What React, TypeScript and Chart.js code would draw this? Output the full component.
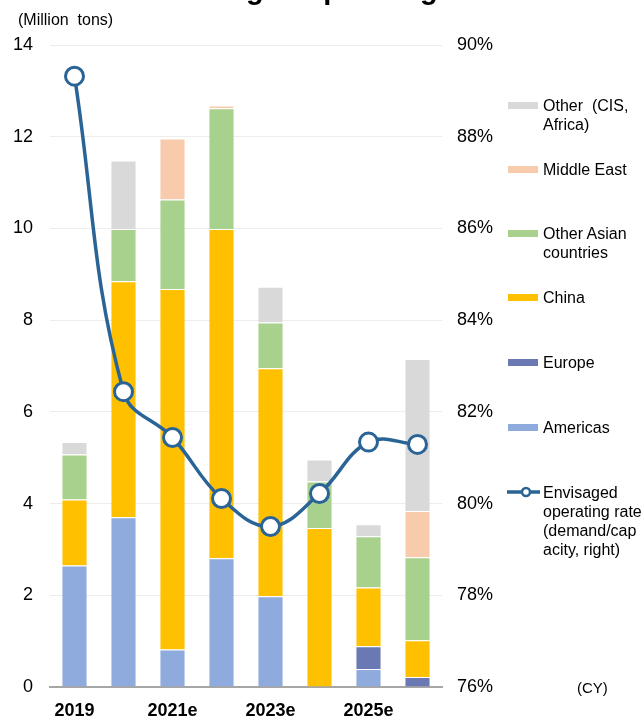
import React, { useEffect, useRef } from "react";
import { Chart, registerables } from "chart.js";

Chart.register(...registerables);

const categories = ["2019", "2020", "2021e", "2022e", "2023e", "2024e", "2025e", "2026e"];
const americas = [2.65, 3.7, 0.82, 2.81, 1.98, null, 0.39, null];
const europe = [null, null, null, null, null, null, 0.5, 0.22];
const china = [1.44, 5.15, 7.86, 7.18, 4.97, 3.47, 1.28, 0.8];
const otherAsia = [0.98, 1.14, 1.95, 2.63, 1.0, 1.01, 1.12, 1.81];
const middleEast = [null, null, 1.33, 0.06, null, null, null, 1.01];
const other = [0.27, 1.49, null, null, 0.78, 0.48, 0.26, 3.31];
const operatingRate = [89.32, 82.44, 81.44, 80.11, 79.5, 80.22, 81.34, 81.29];

const leftTicks = [0, 2, 4, 6, 8, 10, 12, 14];
const rightTicks = [76, 78, 80, 82, 84, 86, 88, 90];

const FONT = "'Liberation Sans', Arial, sans-serif";

const COLORS = {
  americas: "#8FAADC",
  europe: "#6A79B4",
  china: "#FFC000",
  otherAsia: "#A9D18E",
  middleEast: "#F8CBAD",
  other: "#D9D9D9",
  line: "#2A6497",
};

const legendItems = [
  { lines: ["Other  (CIS,", "Africa)"], color: COLORS.other, y: 105 },
  { lines: ["Middle East"], color: COLORS.middleEast, y: 169 },
  { lines: ["Other Asian", "countries"], color: COLORS.otherAsia, y: 233 },
  { lines: ["China"], color: COLORS.china, y: 297 },
  { lines: ["Europe"], color: COLORS.europe, y: 362 },
  { lines: ["Americas"], color: COLORS.americas, y: 427 },
];
const lineLegend = { lines: ["Envisaged", "operating rate", "(demand/cap", "acity, right)"], y: 492 };

export default function App() {
  const canvasRef = useRef<HTMLCanvasElement | null>(null);

  useEffect(() => {
    if (!canvasRef.current) return;
    const barDs = (label: string, data: (number | null)[], color: string) => ({
      type: "bar" as const,
      label,
      data,
      backgroundColor: color,
      borderColor: "#ffffff",
      borderWidth: { top: 1, bottom: 0, left: 0, right: 0 },
      borderSkipped: "bottom",
      yAxisID: "y",
      order: 1,
      barPercentage: 0.5,
      categoryPercentage: 1,
    });
    const chart = new Chart(canvasRef.current, {
      type: "bar",
      data: {
        labels: categories,
        datasets: [
          {
            type: "line",
            label: "Envisaged operating rate (demand/capacity, right)",
            data: operatingRate,
            yAxisID: "y1",
            borderColor: COLORS.line,
            borderWidth: 3.5,
            backgroundColor: "#ffffff",
            pointBackgroundColor: "#ffffff",
            pointBorderColor: COLORS.line,
            pointBorderWidth: 3,
            pointRadius: 9,
            tension: 0.4,
            order: 0,
            clip: false,
          } as any,
          barDs("Americas", americas, COLORS.americas),
          barDs("Europe", europe, COLORS.europe),
          barDs("China", china, COLORS.china),
          barDs("Other Asian countries", otherAsia, COLORS.otherAsia),
          barDs("Middle East", middleEast, COLORS.middleEast),
          barDs("Other (CIS, Africa)", other, COLORS.other),
        ],
      },
      options: {
        responsive: false,
        animation: false,
        layout: { padding: { top: 45, left: 0, right: 0, bottom: 0 } },
        plugins: {
          legend: { display: false },
          tooltip: { enabled: false },
          title: { display: false },
        },
        scales: {
          x: {
            stacked: true,
            grid: { display: false, drawTicks: false },
            border: { display: true, color: "#A6A6A6", width: 2 },
            ticks: {
              autoSkip: false,
              maxRotation: 0,
              padding: 13,
              color: "#000",
              font: { family: FONT, size: 18, weight: "bold" },
              callback: (_v: any, i: number) => (i % 2 === 0 ? categories[i] : ""),
            },
            afterFit: (s: any) => {
              s.height = 33;
            },
          },
          y: {
            stacked: true,
            position: "left",
            min: leftTicks[0],
            max: leftTicks[leftTicks.length - 1],
            afterBuildTicks: (s: any) => {
              s.ticks = leftTicks.map((v) => ({ value: v }));
            },
            grid: { color: "#EDEDED", lineWidth: 1, drawTicks: false },
            border: { display: false },
            ticks: {
              padding: 17,
              color: "#000",
              font: { family: FONT, size: 18 },
            },
            afterFit: (s: any) => {
              s.width = 50;
            },
          },
          y1: {
            position: "right",
            min: rightTicks[0],
            max: rightTicks[rightTicks.length - 1],
            afterBuildTicks: (s: any) => {
              s.ticks = rightTicks.map((v) => ({ value: v }));
            },
            grid: { display: false, drawTicks: false },
            border: { display: false },
            ticks: {
              padding: 15,
              color: "#000",
              font: { family: FONT, size: 18 },
              callback: (v: any) => `${v}%`,
            },
            afterFit: (s: any) => {
              s.width = 202;
            },
          },
        },
      } as any,
    });
    return () => chart.destroy();
  }, []);

  return (
    <div
      style={{
        position: "absolute",
        left: 0,
        top: 0,
        width: 644,
        height: 720,
        overflow: "hidden",
        background: "#ffffff",
        fontFamily: FONT,
        color: "#000",
      }}
    >
      <canvas ref={canvasRef} width={644} height={720} style={{ position: "absolute", left: 0, top: 0 }} />
      <div
        style={{
          position: "absolute",
          right: 129,
          top: -25,
          fontSize: 29,
          lineHeight: "29px",
          fontWeight: "bold",
          whiteSpace: "nowrap",
        }}
      >
        Demand and envisaged operating rates
      </div>
      <div
        style={{
          position: "absolute",
          left: 18,
          top: 10,
          fontSize: 16,
          lineHeight: "19px",
          whiteSpace: "pre",
        }}
      >
        {"(Million  tons)"}
      </div>
      <div
        style={{
          position: "absolute",
          left: 577,
          top: 679,
          fontSize: 15,
          lineHeight: "18px",
          whiteSpace: "pre",
        }}
      >
        (CY)
      </div>
      {legendItems.map((it) => (
        <React.Fragment key={it.lines.join(" ")}>
          <div
            style={{
              position: "absolute",
              left: 508,
              top: it.y - 3.5,
              width: 30,
              height: 7,
              background: it.color,
            }}
          />
          <div
            style={{
              position: "absolute",
              left: 543,
              top: it.y - 9.5,
              fontSize: 16,
              lineHeight: "19px",
              whiteSpace: "pre",
            }}
          >
            {it.lines.join("\n")}
          </div>
        </React.Fragment>
      ))}
      <svg
        width={40}
        height={16}
        style={{ position: "absolute", left: 504, top: lineLegend.y - 8 }}
      >
        <line x1={3} y1={8} x2={36} y2={8} stroke={COLORS.line} strokeWidth={3.5} />
        <circle cx={22} cy={8} r={4} fill="#ffffff" stroke={COLORS.line} strokeWidth={2.5} />
      </svg>
      <div
        style={{
          position: "absolute",
          left: 543,
          top: lineLegend.y - 9.5,
          fontSize: 16,
          lineHeight: "19px",
          whiteSpace: "pre",
        }}
      >
        {lineLegend.lines.join("\n")}
      </div>
    </div>
  );
}
